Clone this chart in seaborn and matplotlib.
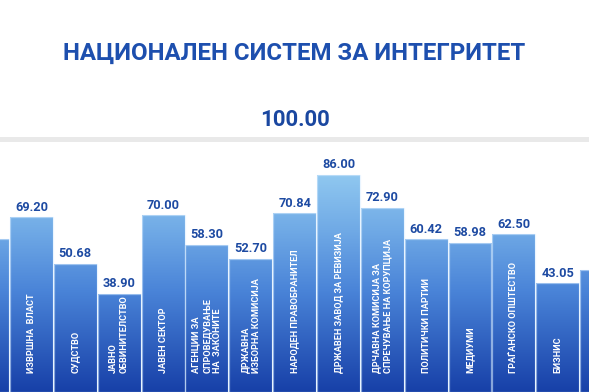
import numpy as np
import pandas as pd
import matplotlib
matplotlib.use("Agg")
import matplotlib.pyplot as plt
import seaborn as sns
from matplotlib.colors import LinearSegmentedColormap

# ---- data ----
title = "НАЦИОНАЛЕН СИСТЕМ ЗА ИНТЕГРИТЕТ"
max_score = 100.00
pillars = [
    "ЗАКОНОДАВНА ВЛАСТ",
    "ИЗВРШНА  ВЛАСТ",
    "СУДСТВО",
    "ЈАВНО\nОБВИНИТЕЛСТВО",
    "ЈАВЕН СЕКТОР",
    "АГЕНЦИИ ЗА\nСПРОВЕДУВАЊЕ\nНА  ЗАКОНИТЕ",
    "ДРЖАВНА\nИЗБОРНА КОМИСИЈА",
    "НАРОДЕН ПРАВОБРАНИТЕЛ",
    "ДРЖАВЕН ЗАВОД ЗА РЕВИЗИЈА",
    "ДРЧАВНА КОМИСИЈА ЗА\nСПРЕЧУВАЊЕ НА КОРУПЦИЈА",
    "ПОЛИТИЧКИ ПАРТИИ",
    "МЕДИУМИ",
    "ГРАЃАНСКО ОПШТЕСТВО",
    "БИЗНИС",
    "ЛОКАЛНА САМОУПРАВА",
]
scores = [60.52, 69.20, 50.68, 38.90, 70.00, 58.30, 52.70, 70.84,
          86.00, 72.90, 60.42, 58.98, 62.50, 43.05, 48.30]

df = pd.DataFrame({"pillar": pillars, "score": scores})

# ---- style ----
sns.set_theme(style="white")
plt.rcParams["font.family"] = ["Roboto", "DejaVu Sans"]

W, H = 589, 392
fig = plt.figure(figsize=(W / 100, H / 100), dpi=100)
fig.patch.set_facecolor("white")
ax = fig.add_axes([0, 0, 1, 1])

sns.barplot(data=df, x="pillar", y="score", order=pillars, width=0.98,
            color="#4a84d8", ax=ax, zorder=2)

px_per_unit = 2.527
ymax = H / px_per_unit
pitch = 43.85
x0 = 1 - 31.5 / pitch
x1 = 1 + (W - 31.5) / pitch
ax.set_xlim(x0, x1)
ax.set_ylim(0, ymax)
ax.set_axis_off()

# reference line at the maximum score
ax.axhline(max_score, color="#e9e9e9", lw=3.6, zorder=1)

# vertical gradient fill clipped to each bar
cmap = LinearSegmentedColormap.from_list(
    "grad",
    [(0.0, "#1740a8"), (0.40, "#4a84d8"), (0.64, "#70aae6"),
     (0.86, "#90c8f0"), (1.0, "#a8d8f8")])
grad = np.linspace(0, 1, 256).reshape(-1, 1)
for patch in ax.patches:
    im = ax.imshow(grad, cmap=cmap, aspect="auto", origin="lower",
                   extent=(x0 - 1, x1 + 1, 0, max_score), zorder=2,
                   interpolation="bilinear")
    im.set_clip_path(patch)
    patch.set_facecolor("none")
    patch.set_edgecolor((0.85, 0.93, 1.0, 0.55))
    patch.set_linewidth(0.9)
    patch.set_zorder(3)
ax.set_xlim(x0, x1)
ax.set_ylim(0, ymax)

# labels
for i, (name, val) in enumerate(zip(pillars, scores)):
    ax.annotate(f"{val:.2f}", xy=(i, val), xytext=(0, 2.5),
                textcoords="offset points", ha="center", va="bottom",
                fontsize=9.2, fontweight="bold", color="#1d4aa2", zorder=4)
    if x0 < i < x1 - 0.5:
        ax.text(i, 7.5, name, rotation=90, ha="center", va="bottom",
                multialignment="left", fontsize=6.6, fontweight="bold",
                color="white", linespacing=1.25, zorder=4)

fig.text(0.5, 1 - 53 / H, title, ha="center", va="center",
         fontsize=17.3, fontweight="bold", color="#1d4fae")
fig.text(0.5, 1 - 120 / H, f"{max_score:.2f}", ha="center", va="center",
         fontsize=16, fontweight="bold", color="#1a47a0")

fig.savefig("out.png", dpi=100, facecolor="white")
